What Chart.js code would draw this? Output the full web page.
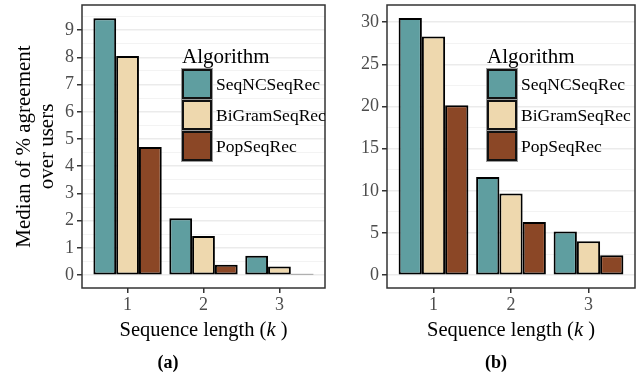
<!DOCTYPE html>
<html>
<head>
<meta charset="utf-8">
<script src="https://cdn.jsdelivr.net/npm/chart.js@4"></script>
<style>
    html, body { margin: 0; padding: 0; background: #ffffff; }
    .panels { display: flex; width: 644px; height: 377px; }
    .panel { position: relative; height: 377px; }
</style>
</head>
<body>
<div class="panels">
    <div class="panel" style="width:330px"><canvas id="chartA"></canvas></div>
    <div class="panel" style="width:314px"><canvas id="chartB"></canvas></div>
</div>
<script>
const sequenceLengths = [1, 2, 3];
const algorithms = ["SeqNCSeqRec", "BiGramSeqRec", "PopSeqRec"];
const colors = ["#5F9EA0", "#EED8AE", "#8B4726"];

// panel (a), one array per algorithm, values for k = 1, 2, 3
const seqNCSeqRecA = [9.43, 2.09, 0.71];
const biGramSeqRecA = [8.05, 1.44, 0.32];
const popSeqRecA = [4.71, 0.38, 0.05];
const valuesA = [seqNCSeqRecA, biGramSeqRecA, popSeqRecA];

// panel (b)
const seqNCSeqRecB = [30.5, 11.64, 5.17];
const biGramSeqRecB = [28.3, 9.67, 4.03];
const popSeqRecB = [20.13, 6.31, 2.37];
const valuesB = [seqNCSeqRecB, biGramSeqRecB, popSeqRecB];

const ticksA = [0, 1, 2, 3, 4, 5, 6, 7, 8, 9];
const ticksB = [0, 5, 10, 15, 20, 25, 30];

const serif = "'Liberation Serif', 'DejaVu Serif', serif";

const panelDecor = {
    id: "panelDecor",
    afterDraw(chart, args, opts) {
        const ctx = chart.ctx;
        const area = chart.chartArea;

        ctx.save();
        ctx.strokeStyle = "#333333";
        ctx.lineWidth = 1.5;
        ctx.strokeRect(area.left, area.top, area.right - area.left, area.bottom - area.top);

        // legend inside the panel
        const lx = area.left + 101;
        ctx.fillStyle = "#000000";
        ctx.textBaseline = "middle";
        ctx.textAlign = "left";
        ctx.font = "21px " + serif;
        ctx.fillText("Algorithm", lx - 1, 57);
        ctx.font = "17.5px " + serif;
        chart.data.datasets.forEach((ds, i) => {
            const y = 70 + i * 31;
            ctx.fillStyle = ds.backgroundColor;
            ctx.fillRect(lx, y, 28, 28);
            ctx.strokeStyle = "#111111";
            ctx.lineWidth = 2;
            ctx.strokeRect(lx, y, 28, 28);
            ctx.strokeStyle = "#9a9a9a";
            ctx.lineWidth = 1;
            ctx.strokeRect(lx - 1.5, y - 1.5, 31, 31);
            ctx.fillStyle = "#000000";
            ctx.fillText(ds.label, lx + 33, y + 15);
        });

        // x axis title with italic k
        const cx = (area.left + area.right) / 2;
        const ty = area.bottom + 43;
        const partA = "Sequence length (";
        const partK = "k";
        const partC = " )";
        ctx.font = "20.5px " + serif;
        const wA = ctx.measureText(partA).width;
        const wC = ctx.measureText(partC).width;
        ctx.font = "italic 20.5px " + serif;
        const wK = ctx.measureText(partK).width;
        const x = cx - (wA + wK + wC) / 2;
        ctx.font = "20.5px " + serif;
        ctx.fillText(partA, x, ty);
        ctx.font = "italic 20.5px " + serif;
        ctx.fillText(partK, x + wA, ty);
        ctx.font = "20.5px " + serif;
        ctx.fillText(partC, x + wA + wK, ty);

        // caption
        ctx.textAlign = "center";
        ctx.font = "bold 18px " + serif;
        ctx.fillText(opts.caption, opts.captionX, area.bottom + 75);
        ctx.restore();
    },
};

function makePanel(canvasId, values, yMin, yMax, majorTicks, minorStep, axisWidth, padRight, yTitle, caption, captionX) {
    const majorStep = majorTicks[1] - majorTicks[0];
    const isMajor = (v) => Math.abs(v / majorStep - Math.round(v / majorStep)) < 1e-6;

    return new Chart(document.getElementById(canvasId), {
        type: "bar",
        data: {
            labels: sequenceLengths,
            datasets: algorithms.map((name, i) => ({
                label: name,
                data: values[i],
                backgroundColor: colors[i],
                borderColor: "#000000",
                borderWidth: 2,
                borderSkipped: false,
                categoryPercentage: 0.9,
                barPercentage: 1.0,
            })),
        },
        options: {
            responsive: true,
            maintainAspectRatio: false,
            animation: false,
            layout: { padding: { top: 5, right: padRight, bottom: 0, left: 0 } },
            scales: {
                x: {
                    type: "linear",
                    min: 0.4,
                    max: 3.6,
                    offset: false,
                    afterBuildTicks(scale) {
                        scale.ticks = sequenceLengths.map((v) => ({ value: v }));
                    },
                    afterFit(scale) {
                        scale.height = 89;
                        scale.paddingLeft = 0;
                        scale.paddingRight = 0;
                    },
                    grid: { offset: false, drawOnChartArea: false, drawTicks: true, tickLength: 5, tickColor: "#333333", lineWidth: 1.5 },
                    border: { display: false },
                    ticks: {
                        color: "#4D4D4D",
                        font: { family: serif, size: 18 },
                        padding: 1,
                        callback: (v) => v,
                    },
                },
                y: {
                    min: yMin,
                    max: yMax,
                    afterBuildTicks(scale) {
                        const ticks = [];
                        for (let v = 0; v <= yMax; v += minorStep) {
                            ticks.push({ value: v });
                        }
                        scale.ticks = ticks;
                    },
                    afterFit(scale) {
                        scale.width = axisWidth;
                        scale.paddingTop = 0;
                        scale.paddingBottom = 0;
                    },
                    grid: {
                        drawTicks: true,
                        tickLength: 5,
                        color: (c) => (c.tick && isMajor(c.tick.value) ? "#EBEBEB" : "#F3F3F3"),
                        tickColor: (c) => (c.tick && isMajor(c.tick.value) ? "#333333" : "rgba(0,0,0,0)"),
                        lineWidth: (c) => (c.tick && isMajor(c.tick.value) ? 1.5 : 1),
                    },
                    border: { display: false },
                    ticks: {
                        color: "#4D4D4D",
                        font: { family: serif, size: 18 },
                        padding: 3,
                        autoSkip: false,
                        callback: (v) => (isMajor(v) ? String(Math.round(v)) : ""),
                    },
                    title: {
                        display: !!yTitle,
                        text: yTitle || "",
                        color: "#000000",
                        font: { family: serif, size: 21, lineHeight: 1.1 },
                        padding: { top: 12.5, bottom: 0 },
                    },
                },
            },
            plugins: {
                legend: { display: false },
                tooltip: { enabled: false },
                panelDecor: { caption: caption, captionX: captionX },
            },
        },
        plugins: [panelDecor],
    });
}

makePanel("chartA", valuesA, -0.47, 9.92, ticksA, 0.5, 82, 5,
    ["Median of % agreement", "over users"], "(a)", 168);
makePanel("chartB", valuesB, -1.525, 32.03, ticksB, 2.5, 57, 9,
    null, "(b)", 166);
</script>
</body>
</html>
